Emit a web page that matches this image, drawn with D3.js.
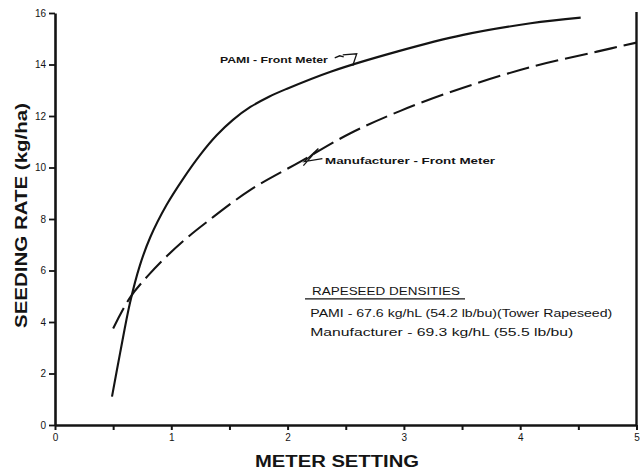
<!DOCTYPE html>
<html><head><meta charset="utf-8">
<script src="https://cdn.jsdelivr.net/npm/d3@7"></script>
<style>
body{margin:0;background:#fff;}
svg{display:block;font-family:"Liberation Sans","DejaVu Sans",sans-serif;}
</style></head>
<body><svg id="c" width="641" height="470"></svg>
<script>
// ---- data ----
const pamiX = [0.49, 0.56, 0.645, 0.73, 0.82, 0.96, 1.10, 1.25, 1.39, 1.53, 1.68, 1.84, 1.99, 2.37, 2.94, 3.51, 4.09, 4.52];
const pamiY = [1.1, 2.8, 4.75, 6.2, 7.3, 8.55, 9.55, 10.5, 11.25, 11.85, 12.35, 12.75, 13.05, 13.72, 14.5, 15.15, 15.6, 15.82];
const manufX = [0.5, 0.645, 0.8, 0.96, 1.13, 1.31, 1.68, 2.11, 2.54, 2.97, 3.51, 4.09, 4.66, 5.0];
const manufY = [3.75, 4.95, 5.8, 6.55, 7.25, 7.9, 9.13, 10.23, 11.33, 12.2, 13.1, 13.9, 14.5, 14.85];
const xTicks = [0, 0.5, 1, 1.5, 2, 2.5, 3, 3.5, 4, 4.5, 5];
const yTicks = [0, 2, 4, 6, 8, 10, 12, 14, 16];
const seriesLabels = ["PAMI - Front Meter", "Manufacturer - Front Meter"];
const xTitle = "METER SETTING";
const yTitle = "SEEDING RATE  (kg/ha)";
const noteTitle = "RAPESEED DENSITIES";
const noteLines = ["PAMI - 67.6 kg/hL (54.2 lb/bu)(Tower Rapeseed)", "Manufacturer - 69.3 kg/hL (55.5 lb/bu)"];

const svg = d3.select("#c");
const ink = "#141414";
const x = d3.scaleLinear().domain([0, 5]).range([55, 636.5]);
const y = d3.scaleLinear().domain([0, 16]).range([425, 13]);

// axes
const gx = svg.append("g").attr("transform", `translate(0,${y(0)})`)
  .call(d3.axisBottom(x).tickValues(xTicks).tickSize(5).tickSizeOuter(0)
    .tickFormat(d => Number.isInteger(d) ? d : ""));
gx.select(".domain").attr("stroke", ink).attr("stroke-width", 2.6);
gx.selectAll(".tick line").attr("stroke", ink).attr("stroke-width", 2);
gx.selectAll(".tick text").attr("fill", ink).attr("font-size", 10).attr("dy", "0.95em").attr("y", 6);

const gy = svg.append("g").attr("transform", `translate(${x(0)},0)`)
  .call(d3.axisLeft(y).tickValues(yTicks).tickSize(6).tickSizeOuter(0));
gy.select(".domain").attr("stroke", ink).attr("stroke-width", 2.6);
gy.selectAll(".tick line").attr("stroke", ink).attr("stroke-width", 1.8);
gy.selectAll(".tick text").attr("fill", ink).attr("font-size", 10).attr("x", -9);

// right frame line
svg.append("line").attr("x1", x(5)).attr("x2", x(5)).attr("y1", y(16) - 1).attr("y2", y(0))
  .attr("stroke", ink).attr("stroke-width", 2.4);

// curves
const line = d3.line().x(d => x(d[0])).y(d => y(d[1])).curve(d3.curveCatmullRom.alpha(0.5));
svg.append("path").datum(d3.zip(pamiX, pamiY)).attr("d", line)
  .attr("fill", "none").attr("stroke", ink).attr("stroke-width", 2.1);
svg.append("path").datum(d3.zip(manufX, manufY)).attr("d", line)
  .attr("fill", "none").attr("stroke", ink).attr("stroke-width", 2.1)
  .attr("stroke-dasharray", "23,7");

// series labels with leaders
svg.append("text").attr("x", x(1.418)).attr("y", y(14.05)).text(seriesLabels[0])
  .attr("font-size", 9.5).attr("font-weight", "bold").attr("fill", ink)
  .attr("textLength", 108).attr("lengthAdjust", "spacingAndGlyphs");
const a1x = x(2.56), a1y = y(13.95);
svg.append("path")
  .attr("d", `M${a1x-18},${a1y-8} L${a1x-13},${a1y-10} L${a1x-9},${a1y-9} M${a1x-10},${a1y-11} L${a1x+4},${a1y-12} L${a1x},${a1y}`)
  .attr("fill", "none").attr("stroke", ink).attr("stroke-width", 1.3);

svg.append("text").attr("x", x(2.322)).attr("y", y(10.15)).text(seriesLabels[1])
  .attr("font-size", 9.5).attr("font-weight", "bold").attr("fill", ink)
  .attr("textLength", 170).attr("lengthAdjust", "spacingAndGlyphs");
const a2x = x(2.11), a2y = y(10.23);
svg.append("path")
  .attr("d", `M${a2x+3},${a2y+4} L${a2x+18},${a2y-13} L${a2x+4},${a2y} L${a2x+22},${a2y-3}`)
  .attr("fill", "none").attr("stroke", ink).attr("stroke-width", 1.3);

// note block
svg.append("text").attr("x", x(2.21)).attr("y", y(5.05)).text(noteTitle)
  .attr("font-size", 10).attr("fill", ink)
  .attr("textLength", 148).attr("lengthAdjust", "spacingAndGlyphs");
svg.append("line").attr("x1", x(2.21) - 7).attr("x2", x(2.21) + 153)
  .attr("y1", y(4.9)).attr("y2", y(4.9)).attr("stroke", ink).attr("stroke-width", 1.3);
svg.append("text").attr("x", x(2.195)).attr("y", y(4.2)).text(noteLines[0])
  .attr("font-size", 10).attr("fill", ink)
  .attr("textLength", 302).attr("lengthAdjust", "spacingAndGlyphs");
svg.append("text").attr("x", x(2.195)).attr("y", y(3.47)).text(noteLines[1])
  .attr("font-size", 10).attr("fill", ink)
  .attr("textLength", 263).attr("lengthAdjust", "spacingAndGlyphs");

// axis titles
svg.append("text").attr("x", 337).attr("y", 467).attr("text-anchor", "middle")
  .text(xTitle).attr("font-size", 16).attr("font-weight", "bold").attr("fill", ink)
  .attr("textLength", 164).attr("lengthAdjust", "spacingAndGlyphs");
svg.append("text").attr("transform", "translate(27,215.5) rotate(-90)").attr("text-anchor", "middle")
  .text(yTitle).attr("font-size", 16).attr("font-weight", "bold").attr("fill", ink)
  .attr("textLength", 225).attr("lengthAdjust", "spacingAndGlyphs");
</script></body></html>
